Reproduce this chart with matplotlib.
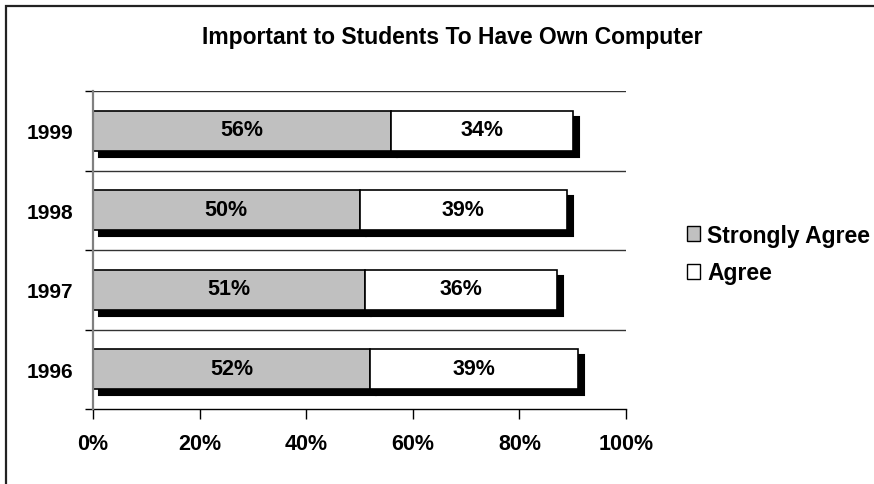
import matplotlib
matplotlib.use("Agg")
import matplotlib.pyplot as plt
from matplotlib.patches import Rectangle, Patch
from matplotlib.transforms import ScaledTranslation
from matplotlib.ticker import FixedLocator, PercentFormatter

years = ["1996", "1997", "1998", "1999"]
strongly_agree = [52, 51, 50, 56]
agree = [39, 36, 39, 34]
series_names = ["Strongly Agree", "Agree"]
x_ticks = [0, 20, 40, 60, 80, 100]

plt.rcParams["font.family"] = ["Liberation Sans", "DejaVu Sans"]
plt.rcParams["font.weight"] = "bold"

fig = plt.figure(figsize=(8.74, 4.85), dpi=100)
W, H = 874, 485
ax = fig.add_axes([93 / W, 1 - 410 / H, (626 - 93) / W, (410 - 92) / H])

# chart-area frame (top and left edges visible)
fig.patches.append(Rectangle((6 / W, -0.1), 1.2, 1 - 7 / H + 0.1, transform=fig.transFigure,
                             fill=False, edgecolor="#222222", linewidth=1.6, zorder=0))

ypos = list(range(len(years)))
bar_h = 0.5
grey = "#c0c0c0"

sa_bars = ax.barh(ypos, strongly_agree, height=bar_h, color=grey, edgecolor="black",
                  linewidth=1.2, zorder=3)
ag_bars = ax.barh(ypos, agree, left=strongly_agree, height=bar_h, color="white",
                  edgecolor="black", linewidth=1.2, zorder=3)

# drop shadows behind each segment
shadow_tr = ax.transData + ScaledTranslation(6 / 100, -6 / 100, fig.dpi_scale_trans)
for bars in (sa_bars, ag_bars):
    for b in bars:
        ax.add_patch(Rectangle((b.get_x(), b.get_y()), b.get_width(), b.get_height(),
                               transform=shadow_tr, facecolor="black", edgecolor="black",
                               linewidth=1.5, zorder=2))

# value labels
for y, s, a in zip(ypos, strongly_agree, agree):
    ax.text(s / 2, y + 0.01, f"{s}%", ha="center", va="center", fontsize=15.5,
            fontweight="bold", zorder=5)
    ax.text(s + a / 2, y + 0.01, f"{a}%", ha="center", va="center", fontsize=15.5,
            fontweight="bold", zorder=5)

ax.set_xlim(0, 100)
ax.set_ylim(-0.5, len(years) - 0.5)

ax.xaxis.set_major_locator(FixedLocator(x_ticks))
ax.xaxis.set_major_formatter(PercentFormatter(decimals=0))
ax.tick_params(axis="x", direction="out", length=7, width=1, color="black",
               labelsize=15.5, pad=10)
for lbl in ax.get_xticklabels():
    lbl.set_fontweight("bold")

ax.set_yticks(ypos)
ax.set_yticklabels(years, fontsize=15, fontweight="bold")
ax.tick_params(axis="y", which="major", length=0, pad=14)
ax.yaxis.set_minor_locator(FixedLocator([i + 0.5 for i in range(-1, len(years))]))
ax.tick_params(axis="y", which="minor", direction="out", length=6, width=1, color="black")

# horizontal gridlines at category boundaries
for yb in [i + 0.5 for i in range(len(years))]:
    ax.axhline(yb, color="#333333", linewidth=1, zorder=1)

for side in ("top", "right"):
    ax.spines[side].set_visible(False)
ax.spines["left"].set_color("#808080")
ax.spines["left"].set_linewidth(1.6)
ax.spines["left"].set_zorder(4)
ax.spines["bottom"].set_color("black")
ax.spines["bottom"].set_linewidth(1)

fig.text(452 / W, 1 - 38 / H, "Important to Students To Have Own Computer",
         ha="center", va="center", fontsize=16.5, fontweight="bold")

handles = [Patch(facecolor=grey, edgecolor="black", linewidth=1),
           Patch(facecolor="white", edgecolor="black", linewidth=1)]
fig.legend(handles, series_names, loc="upper left", bbox_to_anchor=(682 / W, 1 - 220 / H),
           frameon=False, handlelength=0.6, handleheight=0.6, handletextpad=0.3,
           labelspacing=0.65, borderaxespad=0, borderpad=0.2,
           prop={"weight": "bold", "size": 16.5})

fig.savefig("out.png", dpi=100)
